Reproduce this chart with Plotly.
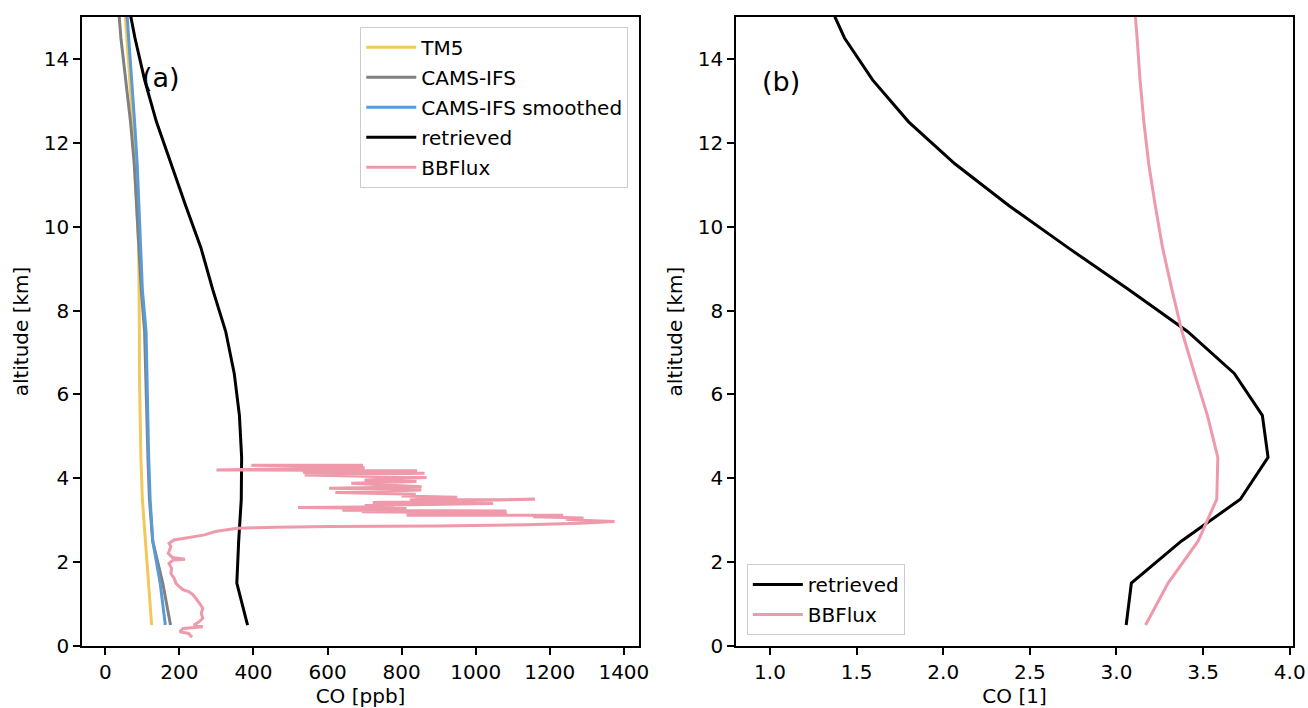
import plotly.graph_objects as go

# ---------------- data ----------------
alt_levels = [0.5, 1.5, 2.5, 3.5, 4.5, 5.5, 6.5, 7.5, 8.5, 9.5, 10.5, 11.5, 12.5, 13.5, 14.5, 15.5]

tm5_ppb = [125, 116, 107, 100, 96, 93, 92, 92, 92, 90, 85, 80, 74, 66, 58, 50]
cams_ppb = [176, 155, 128, 119, 115, 112, 110, 106, 97, 90, 84, 78, 68, 54, 42, 33]
cams_smooth_ppb = [162, 148, 128, 121, 117, 115, 113, 110, 100, 96, 91, 86, 79, 71, 63, 55]
retrieved_ppb = [384, 355, 360, 367, 368, 362, 348, 325, 290, 258, 217, 178, 138, 106, 80, 58]

bbflux_ppb = [234, 225, 201, 210, 263, 239, 254, 263, 259, 263, 254, 244, 237, 225, 210, 201,
              191, 186, 177, 179, 172, 183, 215, 181, 170, 177, 172, 186, 210, 239, 268, 297,
              326, 355, 461, 606, 895, 1137, 1281, 1375, 1281, 1243, 1291, 1155, 1236, 813,
              1084, 692, 1083, 640, 813, 520, 780, 700, 1047, 722, 1160, 822, 950, 800, 838,
              621, 853, 604, 854, 664, 840, 700, 867, 538, 862, 534, 842, 300, 700, 394, 696]
bbflux_alt = [0.21, 0.30, 0.34, 0.42, 0.46, 0.50, 0.58, 0.66, 0.78, 0.90, 1.02, 1.14, 1.22, 1.30, 1.34, 1.41,
              1.49, 1.61, 1.73, 1.85, 1.97, 2.05, 2.07, 2.11, 2.21, 2.37, 2.45, 2.53, 2.57, 2.61, 2.65, 2.73,
              2.77, 2.81, 2.83, 2.85, 2.86, 2.89, 2.93, 2.97, 3.00, 3.02, 3.05, 3.08, 3.12, 3.12,
              3.17, 3.20, 3.22, 3.24, 3.28, 3.30, 3.32, 3.35, 3.40, 3.42, 3.50, 3.48, 3.55, 3.58, 3.62,
              3.66, 3.72, 3.76, 3.80, 3.88, 3.92, 3.96, 4.02, 4.08, 4.12, 4.14, 4.18, 4.20, 4.25, 4.31, 4.31]

retrieved_rel = [3.056, 3.086, 3.374, 3.715, 3.875, 3.842, 3.68, 3.41, 3.07, 2.72, 2.38, 2.067, 1.80, 1.592, 1.43, 1.32]
bbflux_rel = [3.168, 3.298, 3.471, 3.579, 3.585, 3.525, 3.45, 3.378, 3.32, 3.266, 3.224, 3.186, 3.158, 3.136, 3.119, 3.10]

ppb_ticks = [0, 200, 400, 600, 800, 1000, 1200, 1400]
rel_ticks = [1.0, 1.5, 2.0, 2.5, 3.0, 3.5, 4.0]
alt_ticks = [0, 2, 4, 6, 8, 10, 12, 14]

# ---------------- styles ----------------
C_TM5 = "#f2c85b"
C_CAMS = "#808080"
C_SMOOTH = "#5b9bd5"
C_RET = "#000000"
C_BB = "#ee9aaa"
LW = 3.0
FONT = "DejaVu Sans"

fig = go.Figure()

fig.add_trace(go.Scatter(x=tm5_ppb, y=alt_levels, mode="lines", name="TM5",
                         line=dict(color=C_TM5, width=LW), xaxis="x", yaxis="y",
                         legend="legend", legendgroup="a1"))
fig.add_trace(go.Scatter(x=cams_ppb, y=alt_levels, mode="lines", name="CAMS-IFS",
                         line=dict(color=C_CAMS, width=LW), xaxis="x", yaxis="y",
                         legend="legend", legendgroup="a2"))
fig.add_trace(go.Scatter(x=cams_smooth_ppb, y=alt_levels, mode="lines", name="CAMS-IFS smoothed",
                         line=dict(color=C_SMOOTH, width=LW), xaxis="x", yaxis="y",
                         legend="legend", legendgroup="a3"))
fig.add_trace(go.Scatter(x=retrieved_ppb, y=alt_levels, mode="lines", name="retrieved",
                         line=dict(color=C_RET, width=LW), xaxis="x", yaxis="y",
                         legend="legend", legendgroup="a4"))
fig.add_trace(go.Scatter(x=bbflux_ppb, y=bbflux_alt, mode="lines", name="BBFlux",
                         line=dict(color=C_BB, width=LW), xaxis="x", yaxis="y",
                         legend="legend", legendgroup="a5"))

fig.add_trace(go.Scatter(x=retrieved_rel, y=alt_levels, mode="lines", name="retrieved",
                         line=dict(color=C_RET, width=LW), xaxis="x2", yaxis="y2",
                         legend="legend2", legendgroup="b1"))
fig.add_trace(go.Scatter(x=bbflux_rel, y=alt_levels, mode="lines", name="BBFlux",
                         line=dict(color=C_BB, width=LW), xaxis="x2", yaxis="y2",
                         legend="legend2", legendgroup="b2"))

axis_common = dict(showline=True, linecolor="black", linewidth=1.6, mirror=True,
                   ticks="outside", ticklen=7, tickwidth=1.6, tickcolor="black",
                   showgrid=False, zeroline=False,
                   tickfont=dict(family=FONT, size=20, color="black"),
                   title_font=dict(family=FONT, size=20, color="black"))

fig.update_layout(
    width=1308, height=708,
    margin=dict(l=82, r=15, t=17, b=62, autoexpand=False),
    paper_bgcolor="white", plot_bgcolor="white",
    font=dict(family=FONT, size=20, color="black"),
    xaxis=dict(domain=[0, 0.46], range=[-63, 1441], tickvals=ppb_ticks,
               title=dict(text="CO [ppb]", standoff=8), anchor="y", **axis_common),
    yaxis=dict(domain=[0, 1], range=[0, 15], tickvals=alt_ticks,
               title=dict(text="altitude [km]", standoff=10), anchor="x", **axis_common),
    xaxis2=dict(domain=[0.5401, 1], range=[0.804, 4.019], tickvals=rel_ticks, tickformat=".1f",
                title=dict(text="CO [1]", standoff=8), anchor="y2", **axis_common),
    yaxis2=dict(domain=[0, 1], range=[0, 15], tickvals=alt_ticks,
                title=dict(text="altitude [km]", standoff=10), anchor="x2", **axis_common),
    legend=dict(x=0.4511, y=0.9846, xanchor="right", yanchor="top",
                bgcolor="rgba(255,255,255,0.8)", bordercolor="#cccccc", borderwidth=1,
                font=dict(family=FONT, size=20, color="black"), tracegroupgap=1,
                itemwidth=50),
    legend2=dict(x=0.549, y=0.0175, xanchor="left", yanchor="bottom",
                 bgcolor="rgba(255,255,255,0.8)", bordercolor="#cccccc", borderwidth=1,
                 font=dict(family=FONT, size=20, color="black"), tracegroupgap=1,
                 itemwidth=50),
    annotations=[
        dict(text="(a)", x=0.0652, y=0.904, xref="paper", yref="paper",
             xanchor="center", yanchor="middle", showarrow=False,
             font=dict(family=FONT, size=27, color="black")),
        dict(text="(b)", x=(780.5 - 82) / 1211, y=(646 - 81.7) / 629, xref="paper", yref="paper",
             xanchor="center", yanchor="middle", showarrow=False,
             font=dict(family=FONT, size=27, color="black")),
    ],
)

fig.write_html("out.html", config={"displayModeBar": False})

# remove the default 8px page margin so the figure sits at the window's top-left corner
with open("out.html", "r", encoding="utf-8") as f:
    html = f.read()
html = html.replace("<head>", "<head><style>html,body{margin:0;padding:0;overflow:hidden;}</style>", 1)
with open("out.html", "w", encoding="utf-8") as f:
    f.write(html)
